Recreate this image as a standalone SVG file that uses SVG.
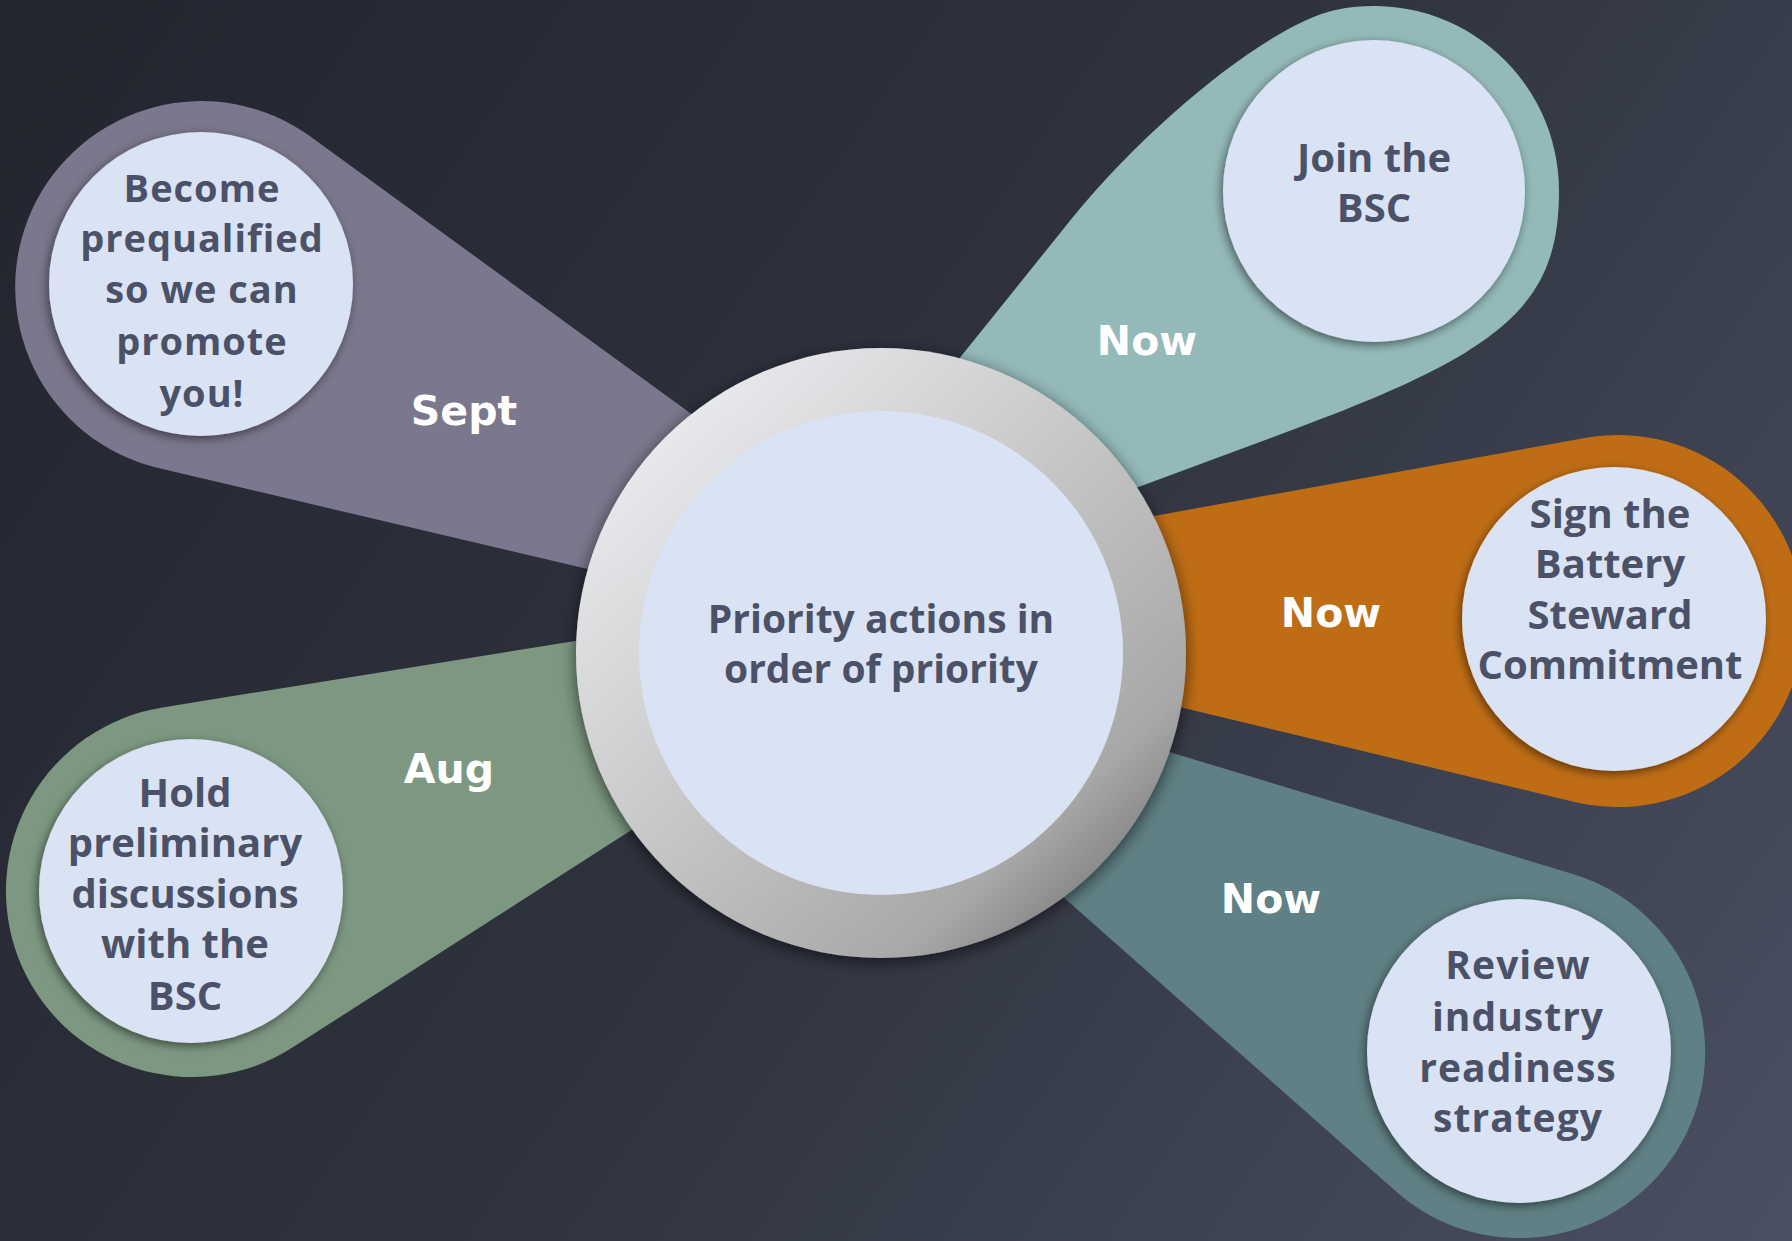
<svg xmlns="http://www.w3.org/2000/svg" width="1792" height="1241" viewBox="0 0 1792 1241">
<defs>
<linearGradient id="bg" gradientUnits="userSpaceOnUse" x1="0" y1="0" x2="1792" y2="1241">
<stop offset="0" stop-color="#22252e"/>
<stop offset="0.5" stop-color="#2f333e"/>
<stop offset="1" stop-color="#4a4f62"/>
</linearGradient>
<linearGradient id="ring" x1="0.12" y1="0.1" x2="0.88" y2="0.9">
<stop offset="0" stop-color="#ebecef"/>
<stop offset="0.5" stop-color="#c4c4c5"/>
<stop offset="0.85" stop-color="#a8a8a8"/>
<stop offset="1" stop-color="#7e7e7e"/>
</linearGradient>
<filter id="sh" x="-20%" y="-20%" width="140%" height="140%">
<feDropShadow dx="-2" dy="3" stdDeviation="5" flood-color="#000" flood-opacity="0.5"/>
</filter>
<filter id="shc" x="-20%" y="-20%" width="140%" height="140%">
<feDropShadow dx="0" dy="4" stdDeviation="8" flood-color="#000" flood-opacity="0.6"/>
</filter>
<style>
.node{fill:#dae3f3;filter:url(#sh)}
.txt{font-family:"Open Sans","DejaVu Sans",sans-serif;font-weight:700;fill:#4b5268;text-anchor:middle}
.lbl{font-family:"DejaVu Sans","Liberation Sans",sans-serif;font-weight:700;fill:#ffffff;text-anchor:middle;font-size:41px}
</style>
</defs>
<rect x="0" y="0" width="1792" height="1241" fill="url(#bg)"/>

<g id="node-sept">
<path d="M 800,493 L 310.5,136.6 A 186 186 0 1 0 158.4,468.1 L 800,619 Z" fill="#7b778c"/>
<circle class="node" cx="201" cy="284" r="152"/>
<text class="txt" font-size="38" letter-spacing="1"><tspan x="202" y="202">Become</tspan><tspan x="202" y="252">prequalified</tspan><tspan x="202" y="303">so we can</tspan><tspan x="202" y="355">promote</tspan><tspan x="202" y="407">you!</tspan></text>
<text class="lbl" x="464" y="425">Sept</text>
</g>

<g id="node-join">
<path d="M 905,426 L 1073,217 C 1156,116 1274,23 1335.5,10 A 185 185 0 0 1 1559,191 C 1559,302 1507,350 1300,427 L 950,557 Z" fill="#93b9b8"/>
<circle class="node" cx="1374" cy="191" r="151"/>
<text class="txt" font-size="40"><tspan x="1374" y="172">Join the</tspan><tspan x="1374" y="222">BSC</tspan></text>
<text class="lbl" x="1147" y="355">Now</text>
</g>

<g id="node-sign">
<path d="M 1060,533 L 1584.8,438 A 186 186 0 1 1 1574.6,801.9 L 1080,683 Z" fill="#bf6d15"/>
<circle class="node" cx="1614" cy="619" r="152"/>
<text class="txt" font-size="40"><tspan x="1610" y="528">Sign the</tspan><tspan x="1610" y="578">Battery</tspan><tspan x="1610" y="629">Steward</tspan><tspan x="1610" y="679">Commitment</tspan></text>
<text class="lbl" x="1331" y="627">Now</text>
</g>

<g id="node-review">
<path d="M 1080,725 L 1572.8,874 A 186 186 0 1 1 1395.8,1191.3 L 1010,850 Z" fill="#5f8084"/>
<circle class="node" cx="1519" cy="1051" r="152"/>
<text class="txt" font-size="39" letter-spacing="1"><tspan x="1518" y="979">Review</tspan><tspan x="1518" y="1031">industry</tspan><tspan x="1518" y="1082">readiness</tspan><tspan x="1518" y="1132">strategy</tspan></text>
<text class="lbl" x="1271" y="913">Now</text>
</g>

<g id="node-hold">
<path d="M 700,621 L 162.5,707.4 A 186 186 0 1 0 292.4,1047.6 L 700,786 Z" fill="#7d9781"/>
<circle class="node" cx="191" cy="891" r="152"/>
<text class="txt" font-size="40"><tspan x="185" y="807">Hold</tspan><tspan x="185" y="857">preliminary</tspan><tspan x="185" y="908">discussions</tspan><tspan x="185" y="958">with the</tspan><tspan x="185" y="1010">BSC</tspan></text>
<text class="lbl" x="449" y="783">Aug</text>
</g>

<g id="node-center">
<circle cx="881" cy="653" r="305" fill="url(#ring)" filter="url(#shc)"/>
<circle cx="881" cy="653" r="242" fill="#dae3f3"/>
<text class="txt" font-size="39"><tspan x="881" y="633">Priority actions in</tspan><tspan x="881" y="683">order of priority</tspan></text>
</g>
</svg>
